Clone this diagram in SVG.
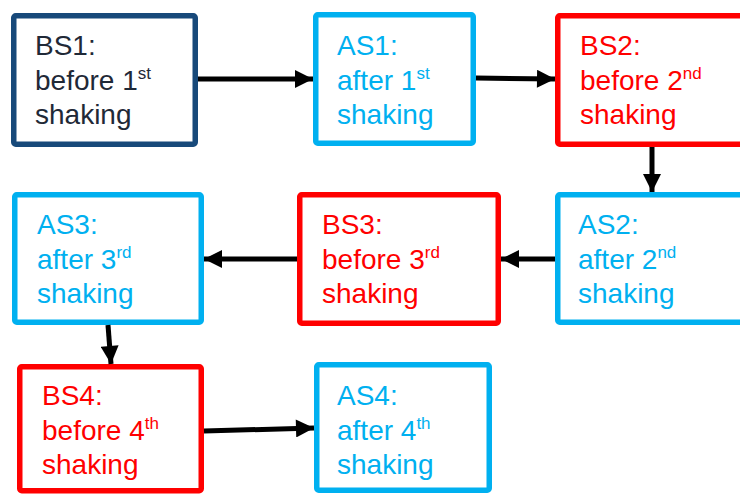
<svg xmlns="http://www.w3.org/2000/svg" width="740" height="495" viewBox="0 0 740 495">
  <style>
    .box { fill: #ffffff; stroke-width: 5.5; }
    .navy { stroke: #17497A; }
    .cyan { stroke: #00B0F0; }
    .red { stroke: #FF0000; }
    .t { font-family: "Liberation Sans", Arial, sans-serif; font-size: 28px; }
    .t-navy { fill: #1F2937; }
    .t-cyan { fill: #00B0F0; }
    .t-red { fill: #FF0000; }
    .sup { font-size: 17px; }
    .conn { stroke: #000000; stroke-width: 5; fill: none; }
  </style>
  <defs>
    <marker id="arrow" viewBox="0 0 10 10" refX="10" refY="5" markerUnits="userSpaceOnUse" markerWidth="19" markerHeight="18" orient="auto">
      <path d="M0,0 L10,5 L0,10 z" fill="#000000"/>
    </marker>
  </defs>
  <rect width="740" height="495" fill="#ffffff"/>

  <g id="BS1">
    <rect class="box navy" x="13.75" y="15.75" width="181.5" height="128.5" rx="2"/>
    <text class="t t-navy" x="35" y="55">BS1:</text>
    <text class="t t-navy" x="35" y="89.5">before 1<tspan class="sup" dy="-11">st</tspan></text>
    <text class="t t-navy" x="35" y="124">shaking</text>
  </g>

  <g id="AS1">
    <rect class="box cyan" x="315.75" y="14.75" width="157.5" height="128.5" rx="2"/>
    <text class="t t-cyan" x="337" y="55">AS1:</text>
    <text class="t t-cyan" x="337" y="89.5">after 1<tspan class="sup" dy="-11">st</tspan></text>
    <text class="t t-cyan" x="337" y="124">shaking</text>
  </g>

  <g id="BS2">
    <rect class="box red" x="557.75" y="15.75" width="190" height="128.5" rx="2"/>
    <text class="t t-red" x="580" y="55">BS2:</text>
    <text class="t t-red" x="580" y="89.5">before 2<tspan class="sup" dy="-11">nd</tspan></text>
    <text class="t t-red" x="580" y="124">shaking</text>
  </g>

  <g id="AS2">
    <rect class="box cyan" x="557.75" y="194.75" width="190" height="127.5" rx="2"/>
    <text class="t t-cyan" x="578" y="234">AS2:</text>
    <text class="t t-cyan" x="578" y="268.5">after 2<tspan class="sup" dy="-11">nd</tspan></text>
    <text class="t t-cyan" x="578" y="303">shaking</text>
  </g>

  <g id="BS3">
    <rect class="box red" x="299.75" y="194.75" width="198.5" height="128.5" rx="2"/>
    <text class="t t-red" x="322" y="234">BS3:</text>
    <text class="t t-red" x="322" y="268.5">before 3<tspan class="sup" dy="-11">rd</tspan></text>
    <text class="t t-red" x="322" y="303">shaking</text>
  </g>

  <g id="AS3">
    <rect class="box cyan" x="14.75" y="194.75" width="186.5" height="127.5" rx="2"/>
    <text class="t t-cyan" x="37" y="234">AS3:</text>
    <text class="t t-cyan" x="37" y="268.5">after 3<tspan class="sup" dy="-11">rd</tspan></text>
    <text class="t t-cyan" x="37" y="303">shaking</text>
  </g>

  <g id="BS4">
    <rect class="box red" x="19.75" y="366.75" width="181.5" height="124" rx="2"/>
    <text class="t t-red" x="42" y="405">BS4:</text>
    <text class="t t-red" x="42" y="439.5">before 4<tspan class="sup" dy="-11">th</tspan></text>
    <text class="t t-red" x="42" y="474">shaking</text>
  </g>

  <g id="AS4">
    <rect class="box cyan" x="316.75" y="364.75" width="172.5" height="125.5" rx="2"/>
    <text class="t t-cyan" x="337" y="405">AS4:</text>
    <text class="t t-cyan" x="337" y="439.5">after 4<tspan class="sup" dy="-11">th</tspan></text>
    <text class="t t-cyan" x="337" y="474">shaking</text>
  </g>

  <g id="connectors">
    <line class="conn" x1="198" y1="79" x2="313" y2="79" marker-end="url(#arrow)"/>
    <line class="conn" x1="476" y1="78" x2="555" y2="79" marker-end="url(#arrow)"/>
    <line class="conn" x1="652" y1="147" x2="652" y2="192" marker-end="url(#arrow)"/>
    <line class="conn" x1="555" y1="259" x2="501" y2="259" marker-end="url(#arrow)"/>
    <line class="conn" x1="297" y1="259" x2="204" y2="259" marker-end="url(#arrow)"/>
    <line class="conn" x1="108" y1="325" x2="111" y2="364" marker-end="url(#arrow)"/>
    <line class="conn" x1="204" y1="431" x2="314" y2="428" marker-end="url(#arrow)"/>
  </g>
</svg>
